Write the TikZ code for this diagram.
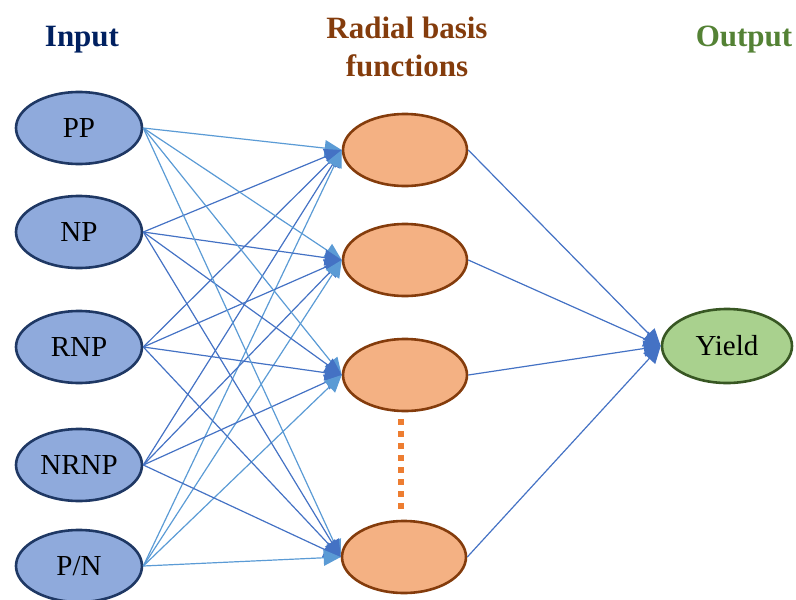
\documentclass[tikz,border=0pt]{standalone}
\usepackage{fontspec}
\setmainfont{Liberation Serif}
\usetikzlibrary{shapes.geometric,arrows.meta}
\definecolor{inFill}{HTML}{8FAADC}
\definecolor{inLine}{HTML}{1F3864}
\definecolor{hidFill}{HTML}{F4B183}
\definecolor{hidLine}{HTML}{843C0C}
\definecolor{outFill}{HTML}{A9D18E}
\definecolor{outLine}{HTML}{385723}
\definecolor{titleIn}{HTML}{002060}
\definecolor{titleHid}{HTML}{843C0C}
\definecolor{titleOut}{HTML}{548235}
\definecolor{dark}{HTML}{4472C4}
\definecolor{light}{HTML}{5B9BD5}
\definecolor{dots}{HTML}{ED7D31}
\begin{document}
\begin{tikzpicture}[x=1pt,y=-1pt,
  innode/.style={ellipse,draw=inLine,fill=inFill,line width=2.6pt,minimum width=126pt,minimum height=72pt,inner sep=0pt,font=\fontsize{29}{32}\selectfont},
  hidnode/.style={ellipse,draw=hidLine,fill=hidFill,line width=2.6pt,minimum width=124pt,minimum height=72pt,inner sep=0pt},
  outnode/.style={ellipse,draw=outLine,fill=outFill,line width=2.6pt,minimum width=130pt,minimum height=74pt,inner sep=0pt,font=\fontsize{29}{32}\selectfont},
  title/.style={font=\fontsize{31}{38}\selectfont\bfseries,align=center},
  edgeD/.style={draw=dark,line width=1.2pt,-{Triangle[length=17pt,width=16pt,fill=dark]}},
  edgeL/.style={draw=light,line width=1.2pt,-{Triangle[length=17pt,width=16pt,fill=light]}}
]
\useasboundingbox (0,0) rectangle (796,600);
\begin{scope}
\clip (0,0) rectangle (796,600);
\node[title,text=titleIn] (tin) at (82,40) {Input};
\node[title,text=titleHid] (thid) at (407,47) {Radial basis\\functions};
\node[title,text=titleOut] (tout) at (744,40) {Output};

\node[innode] (i1) at (79,128) {PP};
\node[innode] (i2) at (79,232) {NP};
\node[innode] (i3) at (79,347) {RNP};
\node[innode] (i4) at (79,465) {NRNP};
\node[innode] (i5) at (79,566) {P/N};

\node[hidnode] (h1) at (405,150) {};
\node[hidnode] (h2) at (405,260) {};
\node[hidnode] (h3) at (405,375) {};
\node[hidnode] (h4) at (404,557) {};

\node[outnode] (y) at (727,346) {Yield};

\coordinate (d1) at (401,419);
\coordinate (d2) at (401,512);
\draw[dots,line width=6pt,dash pattern=on 6pt off 6pt] (d1) -- (d2);

\foreach \h in {h1,h2,h3,h4}{
  \draw[edgeL] (i1.east) -- (\h.west);
  \draw[edgeD] (i2.east) -- (\h.west);
  \draw[edgeD] (i3.east) -- (\h.west);
  \draw[edgeD] (i4.east) -- (\h.west);
  \draw[edgeL] (i5.east) -- (\h.west);
  \draw[edgeD] (\h.east) -- (y.west);
}
\end{scope}
\end{tikzpicture}
\end{document}
